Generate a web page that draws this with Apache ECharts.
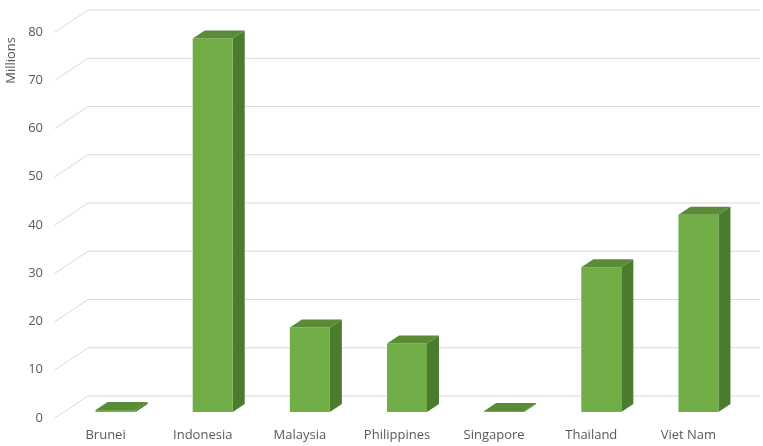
<!DOCTYPE html>
<html>
<head>
<meta charset="utf-8">
<script src="https://cdn.jsdelivr.net/npm/echarts@6/dist/echarts.min.js"></script>
<style>
  html, body { margin: 0; padding: 0; background: #ffffff; }
  #chart { width: 763px; height: 446px; }
</style>
</head>
<body>
<div id="chart"></div>
<script>
// Population by country (millions)
const countries = ['Brunei', 'Indonesia', 'Malaysia', 'Philippines', 'Singapore', 'Thailand', 'Viet Nam'];
const population = [0.4, 77.4, 17.5, 14.2, 0.1, 30.0, 40.9];
const yTicks = [0, 10, 20, 30, 40, 50, 60, 70, 80];

// Pseudo-3D geometry (pixels)
const WALL_DX = 33, WALL_DY = -22;     // front plane -> back wall
const WALL_RIGHT = 760;                // right end of back-wall gridlines
const BAR_INSET = 6;                   // bar front face sits behind the front plane
const DEPTH_DX = 12, DEPTH_DY = -8;    // bar depth
const BAR_W = 40, BAR_SHIFT = 10;      // bar width and shift from category centre

const FRONT = '#70ad47', SIDE = '#4b7b2c', TOP = '#5a8c37';

const chart = echarts.init(document.getElementById('chart'), null, { renderer: 'canvas' });

function renderGridline(params, api) {
  const y = api.coord([0, api.value(1)])[1];
  const x0 = params.coordSys.x - 2;
  return {
    type: 'polyline',
    shape: { points: [[x0, y], [x0 + WALL_DX, y + WALL_DY], [WALL_RIGHT, y + WALL_DY]] },
    style: { stroke: '#d9d9d9', lineWidth: 1, fill: null },
    silent: true
  };
}

function renderBar(params, api) {
  const i = api.value(0);
  const base = api.coord([i, 0]);
  const top = api.coord([i, api.value(1)]);
  const x0 = base[0] + BAR_SHIFT - BAR_W / 2;
  const x1 = x0 + BAR_W;
  const yB = base[1] - BAR_INSET;
  const yT = Math.min(top[1] - BAR_INSET, yB - 1);
  return {
    type: 'group',
    children: [
      {
        type: 'polygon',
        shape: { points: [[x1, yT], [x1 + DEPTH_DX, yT + DEPTH_DY], [x1 + DEPTH_DX, yB + DEPTH_DY], [x1, yB]] },
        style: { fill: SIDE }
      },
      {
        type: 'rect',
        shape: { x: x0, y: yT, width: BAR_W, height: yB - yT },
        style: { fill: FRONT }
      },
      {
        type: 'polygon',
        shape: { points: [[x0, yT], [x1, yT], [x1 + DEPTH_DX, yT + DEPTH_DY], [x0 + DEPTH_DX, yT + DEPTH_DY]] },
        style: { fill: TOP }
      }
    ]
  };
}

const option = {
  backgroundColor: '#ffffff',
  animation: false,
  textStyle: { fontFamily: 'Open Sans' },
  grid: { left: 57, right: 26, top: 32, bottom: 28 },
  xAxis: {
    type: 'category',
    data: countries,
    axisLine: { show: false },
    axisTick: { show: false },
    axisLabel: { color: '#595959', fontSize: 13, margin: 11, fontFamily: 'Open Sans' },
    splitLine: { show: false }
  },
  yAxis: {
    type: 'value',
    min: 0,
    max: 80,
    interval: 10,
    axisLine: { show: false },
    axisTick: { show: false },
    splitLine: { show: false },
    axisLabel: { color: '#595959', fontSize: 13, margin: 14, fontFamily: 'Open Sans' }
  },
  graphic: [
    {
      type: 'text',
      left: 5,
      top: 37,
      rotation: Math.PI / 2,
      style: { text: 'Millions', fill: '#595959', font: '13px "Open Sans"' }
    }
  ],
  series: [
    {
      type: 'custom',
      name: 'grid',
      renderItem: renderGridline,
      data: yTicks.map(v => [0, v]),
      encode: { x: 0, y: 1 },
      z: 1,
      silent: true
    },
    {
      type: 'custom',
      name: 'Population',
      renderItem: renderBar,
      data: population.map((v, i) => [i, v]),
      encode: { x: 0, y: 1 },
      z: 2
    }
  ]
};

chart.setOption(option);
</script>
</body>
</html>
